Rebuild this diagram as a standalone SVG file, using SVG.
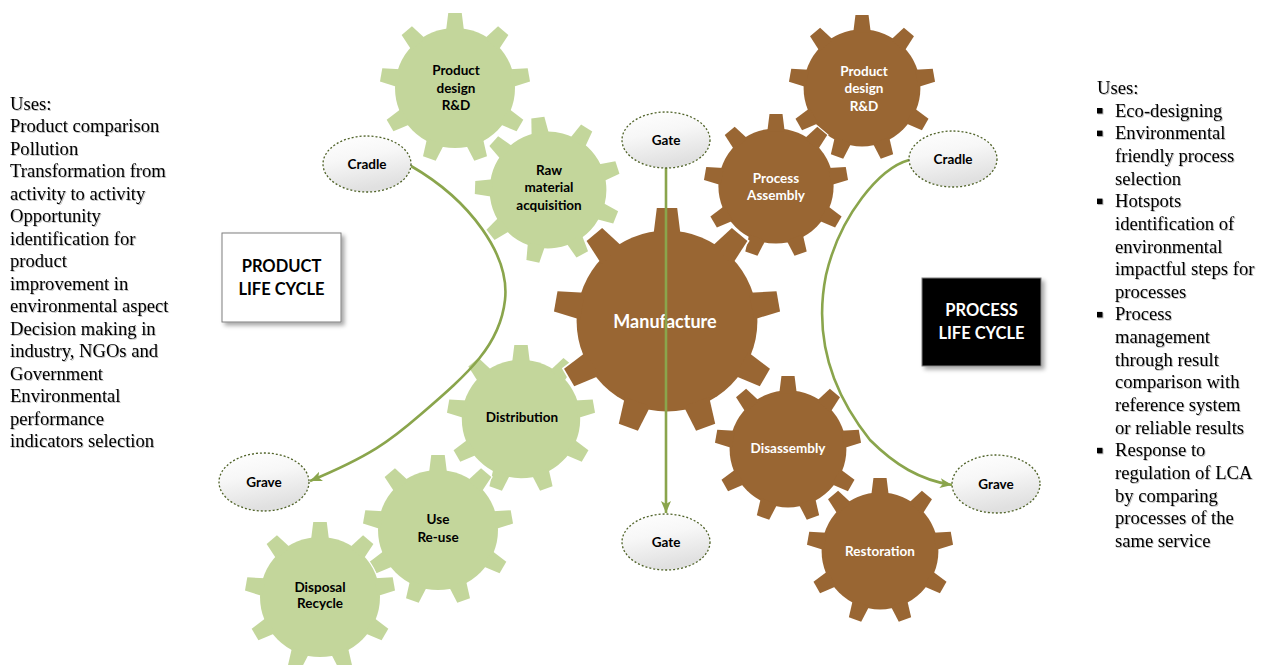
<svg xmlns="http://www.w3.org/2000/svg" xmlns:xlink="http://www.w3.org/1999/xlink" width="1267" height="665" viewBox="0 0 1267 665">
<style>
.halo{fill:#fff;stroke:#fff;stroke-width:3}
.green{fill:#c3d69b}
.brown{fill:#996633}
.lbl{font-family:Lato,"Liberation Sans",sans-serif;font-weight:bold;font-size:13.5px;text-anchor:middle}
.dk{fill:#000}
.wt{fill:#fff}
.big{font-size:18px}
.boxt{font-size:16.5px}
.oval{fill:url(#ovalGrad);stroke:#4f6228;stroke-width:1.3;stroke-dasharray:2 2}
.conn{fill:none;stroke:#8aa54c;stroke-width:2.6}
.body{font-family:"Liberation Serif","Times New Roman",serif;font-size:18.6px;fill:#000}
</style>
<defs>
<linearGradient id="ovalGrad" x1="0" y1="0" x2="0.3" y2="1">
<stop offset="0" stop-color="#ffffff"/>
<stop offset="0.45" stop-color="#f7f7f7"/>
<stop offset="1" stop-color="#e0e0e0"/>
</linearGradient>
<filter id="tshadow" x="-5%" y="-5%" width="110%" height="110%">
<feDropShadow dx="1" dy="1" stdDeviation="0.6" flood-color="#000" flood-opacity="0.25"/>
</filter>
<filter id="boxshadow" x="-10%" y="-10%" width="130%" height="130%">
<feDropShadow dx="3" dy="3" stdDeviation="2" flood-color="#000" flood-opacity="0.35"/>
</filter>
<marker id="arr" markerUnits="userSpaceOnUse" markerWidth="14" markerHeight="12" refX="12" refY="5" orient="auto">
<path d="M0,0 L12,5 L0,10 L3,5 Z" fill="#8aa54c"/>
</marker>
<g id="g">
<circle r="80"/>
<path id="t" d="M-12,-76 L-9,-100 L9,-100 L12,-76 Z"/>
<use xlink:href="#t" href="#t" transform="rotate(40)"/>
<use xlink:href="#t" href="#t" transform="rotate(80)"/>
<use xlink:href="#t" href="#t" transform="rotate(120)"/>
<use xlink:href="#t" href="#t" transform="rotate(160)"/>
<use xlink:href="#t" href="#t" transform="rotate(200)"/>
<use xlink:href="#t" href="#t" transform="rotate(240)"/>
<use xlink:href="#t" href="#t" transform="rotate(280)"/>
<use xlink:href="#t" href="#t" transform="rotate(320)"/>
</g>
</defs>

<g id="left-uses" filter="url(#tshadow)">
<text class="body" x="10" y="110">
<tspan x="10">Uses:</tspan>
<tspan x="10" dy="22.47">Product comparison</tspan>
<tspan x="10" dy="22.47">Pollution</tspan>
<tspan x="10" dy="22.47">Transformation from</tspan>
<tspan x="10" dy="22.47">activity to activity</tspan>
<tspan x="10" dy="22.47">Opportunity</tspan>
<tspan x="10" dy="22.47">identification for</tspan>
<tspan x="10" dy="22.47">product</tspan>
<tspan x="10" dy="22.47">improvement in</tspan>
<tspan x="10" dy="22.47">environmental aspect</tspan>
<tspan x="10" dy="22.47">Decision making in</tspan>
<tspan x="10" dy="22.47">industry, NGOs and</tspan>
<tspan x="10" dy="22.47">Government</tspan>
<tspan x="10" dy="22.47">Environmental</tspan>
<tspan x="10" dy="22.47">performance</tspan>
<tspan x="10" dy="22.47">indicators selection</tspan>
</text>
</g>

<g id="right-uses" filter="url(#tshadow)">
<text class="body" x="1097" y="94">
<tspan x="1097">Uses:</tspan>
<tspan x="1115" dy="22.65">Eco-designing</tspan>
<tspan x="1115" dy="22.65">Environmental</tspan>
<tspan x="1115" dy="22.65">friendly process</tspan>
<tspan x="1115" dy="22.65">selection</tspan>
<tspan x="1115" dy="22.65">Hotspots</tspan>
<tspan x="1115" dy="22.65">identification of</tspan>
<tspan x="1115" dy="22.65">environmental</tspan>
<tspan x="1115" dy="22.65">impactful steps for</tspan>
<tspan x="1115" dy="22.65">processes</tspan>
<tspan x="1115" dy="22.65">Process</tspan>
<tspan x="1115" dy="22.65">management</tspan>
<tspan x="1115" dy="22.65">through result</tspan>
<tspan x="1115" dy="22.65">comparison with</tspan>
<tspan x="1115" dy="22.65">reference system</tspan>
<tspan x="1115" dy="22.65">or reliable results</tspan>
<tspan x="1115" dy="22.65">Response to</tspan>
<tspan x="1115" dy="22.65">regulation of LCA</tspan>
<tspan x="1115" dy="22.65">by comparing</tspan>
<tspan x="1115" dy="22.65">processes of the</tspan>
<tspan x="1115" dy="22.65">same service</tspan>
</text>
<rect x="1097" y="108" width="5.5" height="5.5" fill="#000"/>
<rect x="1097" y="130.6" width="5.5" height="5.5" fill="#000"/>
<rect x="1097" y="198.6" width="5.5" height="5.5" fill="#000"/>
<rect x="1097" y="311.9" width="5.5" height="5.5" fill="#000"/>
<rect x="1097" y="447.8" width="5.5" height="5.5" fill="#000"/>
</g>

<g id="box-product">
<rect x="222" y="233" width="119" height="89" fill="#fff" stroke="#7f7f7f" stroke-width="1" filter="url(#boxshadow)"/>
<text class="lbl dk boxt" x="281.5" y="272">PRODUCT</text>
<text class="lbl dk boxt" x="281.5" y="295">LIFE CYCLE</text>
</g>

<g id="box-process">
<rect x="922" y="278" width="119" height="88" fill="#000" stroke="#7f7f7f" stroke-width="1" filter="url(#boxshadow)"/>
<text class="lbl wt boxt" x="981.5" y="316">PROCESS</text>
<text class="lbl wt boxt" x="981.5" y="339">LIFE CYCLE</text>
</g>

<g id="gear-product-design">
<use xlink:href="#g" href="#g" class="halo" transform="translate(455,88) scale(0.75)"/>
<use xlink:href="#g" href="#g" class="green" transform="translate(455,88) scale(0.75)"/>
<text class="lbl dk" x="456" y="75">Product</text>
<text class="lbl dk" x="456" y="93">design</text>
<text class="lbl dk" x="456" y="110">R&amp;D</text>
</g>

<g id="gear-raw-material">
<use xlink:href="#g" href="#g" class="halo" transform="translate(548,190) scale(0.73) rotate(-8)"/>
<use xlink:href="#g" href="#g" class="green" transform="translate(548,190) scale(0.73) rotate(-8)"/>
<text class="lbl dk" x="549" y="175">Raw</text>
<text class="lbl dk" x="549" y="192">material</text>
<text class="lbl dk" x="549" y="210">acquisition</text>
</g>

<g id="gear-distribution">
<use xlink:href="#g" href="#g" class="halo" transform="translate(521,419) scale(0.74)"/>
<use xlink:href="#g" href="#g" class="green" transform="translate(521,419) scale(0.74)"/>
<text class="lbl dk" x="522" y="422">Distribution</text>
</g>

<g id="gear-use">
<use xlink:href="#g" href="#g" class="halo" transform="translate(438,530) scale(0.75)"/>
<use xlink:href="#g" href="#g" class="green" transform="translate(438,530) scale(0.75)"/>
<text class="lbl dk" x="438" y="524">Use</text>
<text class="lbl dk" x="438" y="542">Re-use</text>
</g>

<g id="gear-disposal">
<use xlink:href="#g" href="#g" class="halo" transform="translate(320,597) scale(0.75)"/>
<use xlink:href="#g" href="#g" class="green" transform="translate(320,597) scale(0.75)"/>
<text class="lbl dk" x="320" y="592">Disposal</text>
<text class="lbl dk" x="320" y="608">Recycle</text>
</g>

<g id="gear-process-design">
<use xlink:href="#g" href="#g" class="halo" transform="translate(862,88) scale(0.73)"/>
<use xlink:href="#g" href="#g" class="brown" transform="translate(862,88) scale(0.73)"/>
<text class="lbl wt" x="864" y="76">Product</text>
<text class="lbl wt" x="864" y="93">design</text>
<text class="lbl wt" x="864" y="111">R&amp;D</text>
</g>

<g id="gear-process-assembly">
<use xlink:href="#g" href="#g" class="halo" transform="translate(776,186) scale(0.72)"/>
<use xlink:href="#g" href="#g" class="brown" transform="translate(776,186) scale(0.72)"/>
<text class="lbl wt" x="776" y="183">Process</text>
<text class="lbl wt" x="776" y="200">Assembly</text>
</g>

<g id="gear-manufacture">
<use xlink:href="#g" href="#g" class="halo" transform="translate(667,321) scale(1.13)"/>
<use xlink:href="#g" href="#g" class="brown" transform="translate(667,321) scale(1.13)"/>
<text class="lbl wt big" x="665" y="328">Manufacture</text>
</g>

<g id="gear-disassembly">
<use xlink:href="#g" href="#g" class="halo" transform="translate(788,449) scale(0.73)"/>
<use xlink:href="#g" href="#g" class="brown" transform="translate(788,449) scale(0.73)"/>
<text class="lbl wt" x="788" y="453">Disassembly</text>
</g>

<g id="gear-restoration">
<use xlink:href="#g" href="#g" class="halo" transform="translate(880,551) scale(0.73)"/>
<use xlink:href="#g" href="#g" class="brown" transform="translate(880,551) scale(0.73)"/>
<text class="lbl wt" x="880" y="556">Restoration</text>
</g>

<g id="connectors">
<path class="conn" d="M411,166 C470,200 510,255 505,300 C500,345 470,372 420,415 C390,441 370,456 310,481" marker-end="url(#arr)"/>
<path class="conn" d="M909,160 C880,168 840,215 826,275 C814,335 830,390 870,440 C895,465 920,480 952,485" marker-end="url(#arr)"/>
<path class="conn" d="M666,168 L666,513" marker-end="url(#arr)"/>
</g>

<g id="oval-cradle-left">
<ellipse class="oval" cx="367" cy="164" rx="44" ry="28"/>
<text class="lbl dk" x="367" y="169">Cradle</text>
</g>
<g id="oval-gate-top">
<ellipse class="oval" cx="666" cy="140" rx="44" ry="28"/>
<text class="lbl dk" x="666" y="145">Gate</text>
</g>
<g id="oval-cradle-right">
<ellipse class="oval" cx="953" cy="159" rx="44" ry="28"/>
<text class="lbl dk" x="953" y="164">Cradle</text>
</g>
<g id="oval-grave-left">
<ellipse class="oval" cx="264" cy="482" rx="45" ry="29"/>
<text class="lbl dk" x="264" y="487">Grave</text>
</g>
<g id="oval-gate-bottom">
<ellipse class="oval" cx="666" cy="542" rx="44" ry="28"/>
<text class="lbl dk" x="666" y="547">Gate</text>
</g>
<g id="oval-grave-right">
<ellipse class="oval" cx="996" cy="484" rx="44" ry="29"/>
<text class="lbl dk" x="996" y="489">Grave</text>
</g>
</svg>
